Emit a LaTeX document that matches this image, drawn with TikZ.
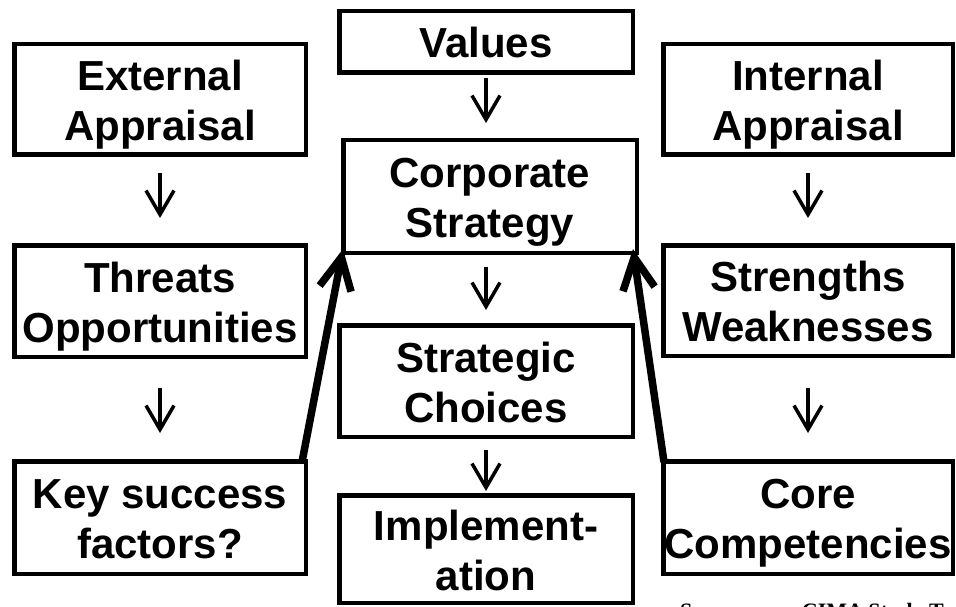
\documentclass[tikz,border=0pt]{standalone}
\usepackage{fontspec}
\setmainfont{Liberation Sans}
\newfontfamily\srcfont{Liberation Serif}
\usetikzlibrary{arrows.meta}
\newcommand\tl{\rule{0pt}{41pt}}
\newcommand\bl{\rule[-9pt]{0pt}{9pt}}
\begin{document}
\begin{tikzpicture}[x=1pt,y=-1pt,
  box/.style={draw,line width=4.5pt,inner sep=0pt,align=center,
    font=\fontsize{42}{50}\selectfont\bfseries},
  smallarrow/.style={line width=3.5pt,
    -{Straight Barb[length=24pt,width=28pt,line width=3.5pt]}},
  bigarrow/.style={line width=7.5pt,
    -{Straight Barb[length=32pt,width=32pt,line width=7.5pt]}}
]
\useasboundingbox (0,0) rectangle (956,607);
\clip (0,0) rectangle (956,607);
\fill[white] (0,0) rectangle (956,607);

\node[box,minimum width=291.5pt,minimum height=110.5pt] (ext) at (160,99.5) {\tl External\\Appraisal\bl};
\node[box,minimum width=293.5pt,minimum height=61.5pt] (val) at (486,42) {\tl Values\bl};
\node[box,minimum width=293.5pt,minimum height=112.5pt] (corp) at (490,196.5) {\tl Corporate\\Strategy\bl};
\node[box,minimum width=289.5pt,minimum height=110.5pt] (int) at (808,99.5) {\tl Internal\\Appraisal\bl};
\node[box,minimum width=291.5pt,minimum height=111.5pt] (thr) at (160,301) {\tl Threats\\Opportunities\bl};
\node[box,minimum width=289.5pt,minimum height=110.5pt] (sw) at (808,300.5) {\tl Strengths\\Weaknesses\bl};
\node[box,minimum width=293.5pt,minimum height=111.5pt] (strat) at (486,381) {\tl Strategic\\Choices\bl};
\node[box,minimum width=291.5pt,minimum height=112.5pt] (key) at (160,517.5) {\tl Key success\\factors?\bl};
\node[box,minimum width=289.5pt,minimum height=112.5pt] (core) at (808,517.5) {\tl Core\\Competencies\bl};
\node[box,minimum width=293.5pt,minimum height=107.5pt] (impl) at (486,549) {\tl Implement-\\ation\bl};

\draw[smallarrow] ([yshift=-16pt]ext.south) -- ([yshift=25pt]thr.north);
\draw[smallarrow] ([yshift=-29pt]thr.south) -- ([yshift=26pt]key.north);
\draw[smallarrow] ([yshift=-16pt]int.south) -- ([yshift=25pt]sw.north);
\draw[smallarrow] ([yshift=-30pt]sw.south) -- ([yshift=26pt]core.north);
\draw[smallarrow] ([yshift=-3pt]val.south) -- ([yshift=15pt]val.south |- corp.north);
\draw[smallarrow] ([yshift=-12pt]corp.south -| strat.north) -- ([yshift=13pt]strat.north);
\draw[smallarrow] ([yshift=-11pt]strat.south) -- ([yshift=2pt]impl.north);

\draw[bigarrow] ([xshift=-6pt,yshift=-3pt]key.north east) -- ([xshift=2pt,yshift=6pt]corp.south west);
\draw[bigarrow] ([xshift=3pt,yshift=-3pt]core.north west) -- ([xshift=-6pt,yshift=6pt]corp.south east);

\node[anchor=north west,inner sep=0pt,font=\srcfont\bfseries\fontsize{22}{24}\selectfont] (src) at (680,603) {Source:\hspace{50pt}CIMA Study Text};
\end{tikzpicture}
\end{document}
